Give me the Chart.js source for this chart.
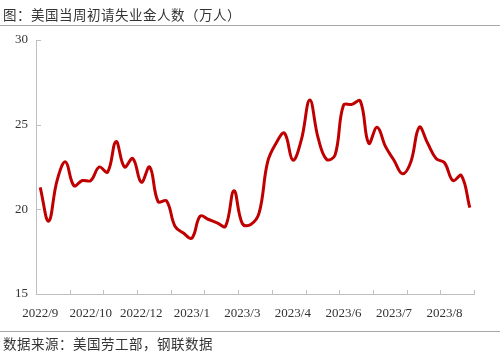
<!DOCTYPE html>
<html>
<head>
<meta charset="utf-8">
<script src="https://cdn.jsdelivr.net/npm/chart.js@4/dist/chart.umd.min.js"></script>
<style>
  html, body { margin: 0; padding: 0; background: #fff; }
  #wrap { position: relative; width: 500px; height: 357px; overflow: hidden; }
  #c { position: absolute; left: 0; top: 0; }
  .title { position: absolute; left: 3px; top: 4px; font: 13.5px "Noto Sans CJK SC", sans-serif; letter-spacing: 0.5px; color: #333; white-space: nowrap; }
  .foot { position: absolute; left: 3px; top: 333px; font: 13.5px "Noto Sans CJK SC", sans-serif; letter-spacing: 0.5px; color: #333; white-space: nowrap; }
  .rule { position: absolute; left: 0; width: 500px; height: 1px; background: #a6a6a6; }
</style>
</head>
<body>
<div id="wrap">
  <canvas id="c" width="500" height="357"></canvas>
  <div class="title">图：美国当周初请失业金人数（万人）</div>
  <div class="rule" style="top:25px"></div>
  <div class="rule" style="top:331px"></div>
  <div class="foot">数据来源：美国劳工部，钢联数据</div>
</div>
<script>
// Weekly initial jobless claims (10k persons), 52 weeks
const claims = [21.3, 19.3, 21.7, 22.8, 21.4, 21.7, 21.7, 22.5, 22.2, 24.0,
                22.5, 23.0, 21.6, 22.5, 20.45, 20.5, 19.0, 18.6, 18.3, 19.6,
                19.4, 19.2, 19.0, 21.1, 19.15, 19.1, 19.8, 22.8, 23.9, 24.5,
                22.9, 24.1, 26.45, 24.2, 22.95, 23.2, 26.15, 26.2, 26.4, 23.9,
                24.85, 23.7, 22.9, 22.1, 22.8, 24.85, 23.9, 23.0, 22.75, 21.7,
                22.0, 20.1];
// Tick labels shown every 6 weeks
const tickLabels = ['2022/9', '2022/10', '2022/12', '2023/1', '2023/3', '2023/4', '2023/6', '2023/7', '2023/8'];
const labelEvery = 6;
const tickMarkEvery = 4;
const yTicks = [15, 20, 25, 30];

const categories = claims.map((_, i) => (i % labelEvery === 0 ? tickLabels[i / labelEvery] : 'w' + i));

const axisColor = '#bfbfbf';

const innerTicks = {
  id: 'innerTicks',
  afterDraw(chart) {
    const ctx = chart.ctx;
    const xs = chart.scales.x, ys = chart.scales.y;
    const step = xs.getPixelForValue(1) - xs.getPixelForValue(0);
    const start = xs.getPixelForValue(0) - step / 2;
    ctx.save();
    ctx.strokeStyle = axisColor;
    ctx.lineWidth = 1;
    ctx.beginPath();
    for (let i = 0; i <= claims.length; i += tickMarkEvery) {
      const px = Math.round(start + step * i) + 0.5;
      ctx.moveTo(px, ys.bottom);
      ctx.lineTo(px, ys.bottom - 4);
    }
    yTicks.forEach(v => {
      if (v === ys.min) return;
      const py = Math.round(ys.getPixelForValue(v)) + 0.5;
      ctx.moveTo(xs.left, py);
      ctx.lineTo(xs.left + 5, py);
    });
    ctx.stroke();
    ctx.restore();
  }
};

new Chart(document.getElementById('c'), {
  type: 'line',
  data: {
    labels: categories,
    datasets: [{
      data: claims,
      borderColor: '#c00000',
      borderWidth: 3,
      pointRadius: 0,
      tension: 0.4,
      fill: false
    }]
  },
  options: {
    responsive: false,
    animation: false,
    devicePixelRatio: 1,
    layout: { padding: { left: 0, right: 26, top: 40, bottom: 0 } },
    plugins: { legend: { display: false }, tooltip: { enabled: false } },
    scales: {
      x: {
        type: 'category',
        offset: true,
        afterFit: s => { s.height = 63; },
        grid: { display: false },
        border: { display: true, color: axisColor, width: 1 },
        ticks: {
          autoSkip: false,
          maxRotation: 0,
          minRotation: 0,
          padding: 4,
          color: '#333',
          font: { family: '"Liberation Serif", "Times New Roman", serif', size: 13 },
          callback: (v, i) => (i % labelEvery === 0 ? tickLabels[i / labelEvery] : '')
        }
      },
      y: {
        min: 15,
        max: 30,
        afterFit: s => { s.width = 36; },
        afterBuildTicks: s => { s.ticks = yTicks.map(v => ({ value: v })); },
        grid: { display: false, drawTicks: false },
        border: { display: true, color: axisColor, width: 1 },
        ticks: {
          padding: 8,
          color: '#333',
          font: { family: '"Liberation Serif", "Times New Roman", serif', size: 13 }
        }
      }
    }
  },
  plugins: [innerTicks]
});
</script>
</body>
</html>
